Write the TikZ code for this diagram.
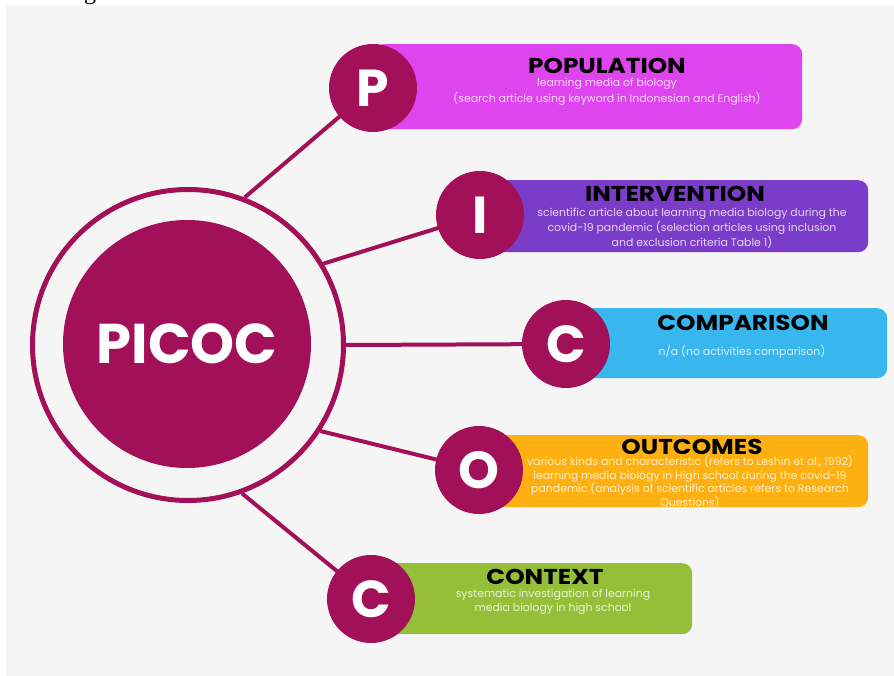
\documentclass[tikz,border=0pt]{standalone}
\usepackage{fontspec}
\setmainfont{Liberation Serif}
\newfontfamily\titlef{Poppins}
\newfontfamily\headf{Poppins}[FakeStretch=1.15]
\newfontfamily\subf{Poppins}
\definecolor{bgc}{HTML}{F5F5F5}
\definecolor{plum}{HTML}{A3105A}
\definecolor{popc}{HTML}{DE45EF}
\definecolor{intc}{HTML}{7B3CC9}
\definecolor{comc}{HTML}{38B6EE}
\definecolor{outc}{HTML}{FDB012}
\definecolor{conc}{HTML}{95BF39}
\tikzset{
  link/.style={draw=plum, line width=4pt},
  bar/.style={rectangle, rounded corners=10pt, anchor=north west, inner sep=0pt},
  letter/.style={circle, fill=plum, text=white, inner sep=0pt, minimum size=88pt,
     font=\titlef\bfseries\fontsize{52}{52}\selectfont},
  heading/.style={text=black, inner sep=0pt, font=\headf\bfseries\fontsize{21.5}{21.5}\selectfont},
  body/.style={text=white, text opacity=0.8, inner sep=0pt, align=center,
     font=\subf\fontsize{10.9}{16.5}\selectfont},
}
\begin{document}
\begin{tikzpicture}[x=1pt,y=-1pt]
\useasboundingbox (0,0) rectangle (894,676);
\fill[bgc] (6,5) rectangle (894,676);
\begin{scope}
\clip (0,0) rectangle (894,5);
\node[anchor=base, inner sep=0pt, font=\fontsize{24}{24}\selectfont] (capg) at (90,-0.5) {g};
\end{scope}
% big circle
\node[circle, draw=plum, line width=5pt, minimum size=311pt, inner sep=0pt] (ring) at (188,345) {};
% small circle centres
\coordinate (pc) at (373,88);
\coordinate (ic) at (480,215);
\coordinate (cc) at (566,344);
\coordinate (oc) at (479,470);
\coordinate (xc) at (371,599);
% links
\draw[link] (ring.69.5) -- (pc);
\draw[link] (ring.31.8) -- (ic);
\draw[link] (ring.0) -- (cc);
\draw[link] (ring.-33.8) -- (oc);
\draw[link] (ring.-70.5) -- (xc);
% bars
\node[bar, fill=popc, minimum width=429pt, minimum height=85pt] (pbox) at (373,44) {};
\node[bar, fill=intc, minimum width=388pt, minimum height=72pt] (ibox) at (480,180) {};
\node[bar, fill=comc, minimum width=321pt, minimum height=70pt] (cbox) at (566,308) {};
\node[bar, fill=outc, minimum width=389pt, minimum height=72pt] (obox) at (479,435) {};
\node[bar, fill=conc, minimum width=321pt, minimum height=71pt] (xbox) at (371,563) {};
% letter circles
\node[letter] (p) at (pc) {P};
\node[letter] (i) at (ic) {I};
\node[letter] (c) at (cc) {C};
\node[letter] (o) at (oc) {O};
\node[letter] (x) at (xc) {C};
% core
\node[circle, fill=plum, minimum size=248pt, inner sep=0pt, text=white,
      font=\titlef\bfseries\fontsize{56}{56}\selectfont] (core) at (187,344) {PICOC};
% texts
\node[heading] (pt) at (607,66) {POPULATION};
\node[body] (pb) at (607,92) {learning media of biology\\(search article using keyword in Indonesian and English)};
\node[heading] (it) at (675,194) {INTERVENTION};
\node[body, font=\subf\fontsize{10.9}{15}\selectfont] (ib) at (692,228) {scientific article about learning media biology during the\\covid-19 pandemic (selection articles using inclusion\\and exclusion criteria Table 1)};
\node[heading] (ct) at (743,323) {COMPARISON};
\node[body] (cb) at (742,352) {n/a (no activities comparison)};
\node[heading] (ot) at (692,447) {OUTCOMES};
\node[body, font=\subf\fontsize{10.9}{13.4}\selectfont] (ob) at (690,482) {various kinds and characteristic (refers to Leshin et al., 1992)\\learning media biology in High school during the covid-19\\pandemic (analysis of scientific articles refers to Research\\Questions)};
\node[heading] (xt) at (545,577) {CONTEXT};
\node[body, font=\subf\fontsize{10.9}{14}\selectfont] (xb) at (553,602) {systematic investigation of learning\\media biology in high school};
\end{tikzpicture}
\end{document}
